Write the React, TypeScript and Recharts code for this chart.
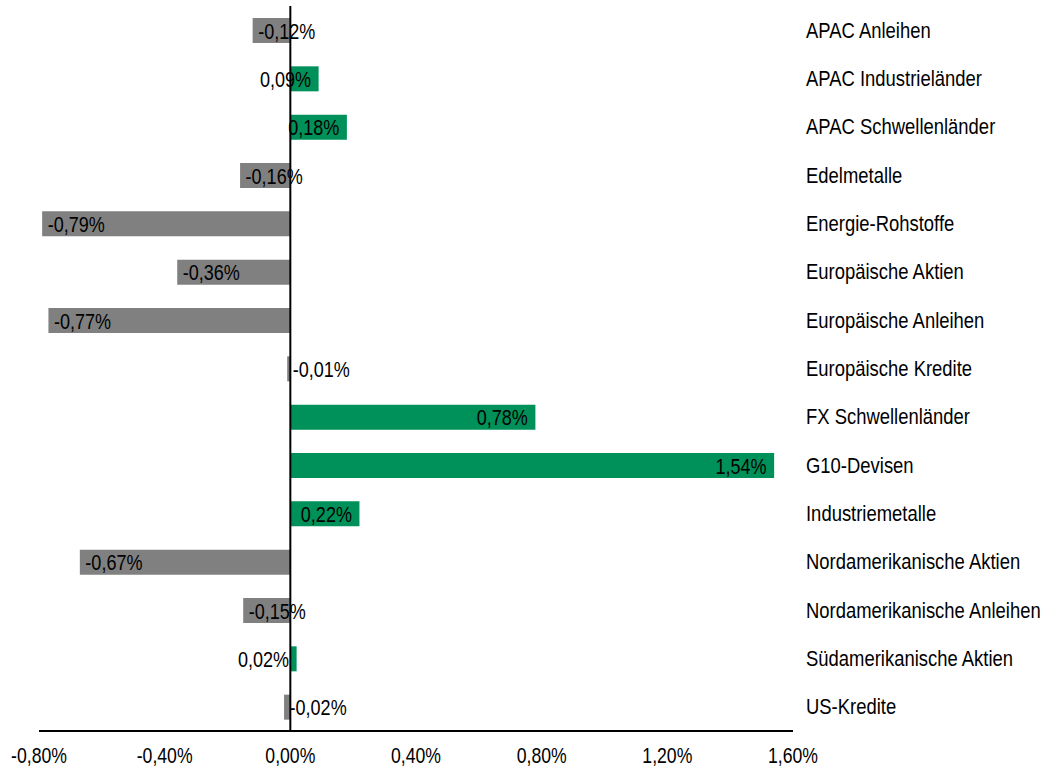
import React from "react";
import { BarChart, Bar, XAxis, YAxis, Cell, ReferenceLine, LabelList } from "recharts";

const categories = [
  "APAC Anleihen",
  "APAC Industrieländer",
  "APAC Schwellenländer",
  "Edelmetalle",
  "Energie-Rohstoffe",
  "Europäische Aktien",
  "Europäische Anleihen",
  "Europäische Kredite",
  "FX Schwellenländer",
  "G10-Devisen",
  "Industriemetalle",
  "Nordamerikanische Aktien",
  "Nordamerikanische Anleihen",
  "Südamerikanische Aktien",
  "US-Kredite",
];

const values = [-0.12, 0.09, 0.18, -0.16, -0.79, -0.36, -0.77, -0.01, 0.78, 1.54, 0.22, -0.67, -0.15, 0.02, -0.02];

const xTicks = [-0.8, -0.4, 0, 0.4, 0.8, 1.2, 1.6];

const POS_COLOR = "#009059";
const NEG_COLOR = "#808080";
const FONT = "'Liberation Sans', Arial, sans-serif";
const SX = 0.82;

const data = categories.map((name, i) => ({ name, value: values[i] }));

const fmt = (v: number) => v.toFixed(2).replace(".", ",") + "%";

const NarrowText = ({ x, y, anchor, size, children }: any) => (
  <g transform={`translate(${x},${y})`}>
    <text
      transform={`scale(${SX},1)`}
      x={0}
      y={0}
      textAnchor={anchor}
      fontSize={size}
      fontFamily={FONT}
      fill="#000"
    >
      {children}
    </text>
  </g>
);

const ValueLabel = (props: any) => {
  const { x, y, width, height, value } = props;
  const x0 = Number(x);
  const w = Number(width);
  const left = Math.min(x0, x0 + w);
  const right = Math.max(x0, x0 + w);
  const cy = Number(y) + Number(height) / 2;
  const neg = Number(value) < 0;
  return (
    <NarrowText x={neg ? left + 5.5 : right - 7.5} y={cy + 8} anchor={neg ? "start" : "end"} size={22}>
      {fmt(Number(value))}
    </NarrowText>
  );
};

const XTick = (props: any) => {
  const { x, payload } = props;
  return (
    <NarrowText x={x} y={763} anchor="middle" size={21.5}>
      {fmt(Number(payload.value))}
    </NarrowText>
  );
};

const YTick = (props: any) => {
  const { y, payload } = props;
  return (
    <NarrowText x={806} y={Number(y) + 7.5} anchor="start" size={22.5}>
      {payload.value}
    </NarrowText>
  );
};

export default function App() {
  return (
    <div style={{ position: "absolute", left: 0, top: 0, width: 1059, height: 768, background: "#fff" }}>
      <BarChart
        width={1059}
        height={768}
        data={data}
        layout="vertical"
        margin={{ top: 6, right: 0, bottom: 0, left: 39 }}
        barSize={25}
      >
        <XAxis
          type="number"
          domain={[-0.8, 1.6]}
          ticks={xTicks}
          height={37}
          axisLine={{ stroke: "#000", strokeWidth: 2 }}
          tickLine={false}
          tick={<XTick />}
          interval={0}
        />
        <YAxis
          type="category"
          dataKey="name"
          orientation="right"
          width={266}
          axisLine={false}
          tickLine={false}
          interval={0}
          tick={<YTick />}
        />
        <Bar dataKey="value" isAnimationActive={false}>
          {data.map((d, i) => (
            <Cell key={i} fill={d.value >= 0 ? POS_COLOR : NEG_COLOR} />
          ))}
          <LabelList dataKey="value" content={ValueLabel} />
        </Bar>
        <ReferenceLine x={0} stroke="#000" strokeWidth={2} />
      </BarChart>
    </div>
  );
}
